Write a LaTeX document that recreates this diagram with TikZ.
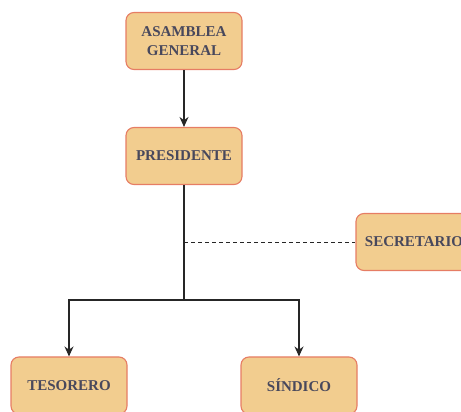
\documentclass[tikz,border=0pt]{standalone}
\usepackage{fontspec}
\setmainfont{Liberation Serif}
\usetikzlibrary{arrows.meta}
\definecolor{boxfill}{RGB}{242,205,143}
\definecolor{boxline}{RGB}{230,125,100}
\definecolor{boxtext}{RGB}{72,72,92}
\begin{document}
\begin{tikzpicture}[x=1pt,y=1pt,
  orgbox/.style={draw=boxline, fill=boxfill, line width=1.1pt, rounded corners=8pt,
    minimum width=116pt, minimum height=57pt, inner sep=0pt, align=center,
    text=boxtext, font=\fontsize{15}{19}\selectfont\bfseries},
  conn/.style={draw=black!85, line width=1.1pt},
  arr/.style={conn, -{Stealth[length=10pt,width=9pt]}}]
\useasboundingbox (0,0) rectangle (461,412);
\node[orgbox] (asm) at (184,371) {ASAMBLEA\\GENERAL};
\node[orgbox] (pres) at (184,256) {PRESIDENTE};
\node[orgbox] (sec) at (414,170) {SECRETARIO};
\node[orgbox] (tes) at (69,26.5) {TESORERO};
\node[orgbox] (sin) at (299,26.5) {SÍNDICO};
\coordinate (j) at (184,112);
\coordinate (d) at (184,170);
\draw[arr] (asm) -- (pres);
\draw[conn] (pres) -- (j);
\draw[arr] (j) -| (tes);
\draw[arr] (j) -| (sin);
\draw[conn, dashed, dash pattern=on 4pt off 3pt, line width=0.9pt] (d) -- (sec);
\end{tikzpicture}
\end{document}
